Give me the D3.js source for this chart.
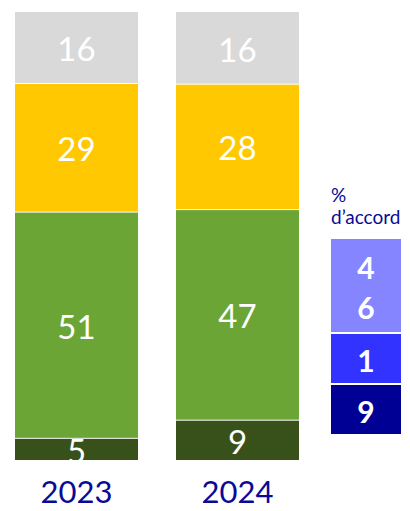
<!DOCTYPE html>
<html><head><meta charset="utf-8">
<script src="https://cdn.jsdelivr.net/npm/d3@7"></script>
<style>body{margin:0;background:#fff}svg{display:block}</style>
</head><body>
<script>
const years = ["2023", "2024"];
const series = ["Pas du tout", "Plutôt", "Ni", "Sans avis"];
const valPasDuTout = [5, 9];
const valPlutot = [51, 47];
const valNi = [29, 28];
const valSansAvis = [16, 16];
const colors = ["#38511b", "#6aa535", "#ffc800", "#d9d9d9"];
const legendTitle = ["%", "d\u2019accord"];
const legendLines = [["4", "6"], ["1"], ["9"]];
const legendColors = ["#8585ff", "#3333ff", "#000094"];

const W = 410, H = 511;
const svg = d3.select("body").append("svg").attr("width", W).attr("height", H);
const font = "Lato, 'Noto Sans', sans-serif";

const x = d3.scaleBand().domain(years).range([15, 299]).paddingInner(38 / 161).paddingOuter(0);
const allVals = [valPasDuTout, valPlutot, valNi, valSansAvis];

years.forEach((yr, i) => {
  const vals = allVals.map(a => a[i]);
  const total = d3.sum(vals);
  const y = d3.scaleLinear().domain([0, total]).range([460, 12]);
  let cum = 0;
  vals.forEach((v, j) => {
    const y0 = y(cum), y1 = y(cum + v);
    cum += v;
    const g = svg.append("g");
    g.append("rect")
      .attr("x", x(yr)).attr("width", x.bandwidth())
      .attr("y", y1 + (j < vals.length - 1 ? 1 : 0))
      .attr("height", y0 - y1 - (j < vals.length - 1 ? 1 : 0))
      .attr("fill", colors[j]);
    g.append("text")
      .attr("x", x(yr) + x.bandwidth() / 2)
      .attr("y", (y0 + y1) / 2 + 1)
      .attr("text-anchor", "middle").attr("dominant-baseline", "central")
      .attr("font-family", font).attr("font-size", 33).attr("fill", "#fff")
      .text(v);
  });
  svg.append("text")
    .attr("x", x(yr) + x.bandwidth() / 2).attr("y", 503)
    .attr("text-anchor", "middle")
    .attr("font-family", font).attr("font-size", 31).attr("fill", "#0a0a96")
    .text(yr);
});

// legend
legendTitle.forEach((t, i) => {
  svg.append("text").attr("x", 331).attr("y", 202 + i * 22)
    .attr("font-family", font).attr("font-size", 19).attr("fill", "#0a0a96").text(t);
});
const lineH = 40;
let ly = 239;
legendLines.forEach((lines, i) => {
  const h = i === 0 ? 93 : 49;
  svg.append("rect").attr("x", 331).attr("y", ly).attr("width", 70).attr("height", h)
    .attr("fill", legendColors[i]);
  const cy = ly + h / 2;
  lines.forEach((l, k) => {
    svg.append("text").attr("x", 366)
      .attr("y", cy + (k - (lines.length - 1) / 2) * lineH + 1)
      .attr("text-anchor", "middle").attr("dominant-baseline", "central")
      .attr("font-family", font).attr("font-weight", 700).attr("font-size", 30)
      .attr("fill", "#fff").text(l);
  });
  ly += h + 2;
});
</script>
</body></html>
